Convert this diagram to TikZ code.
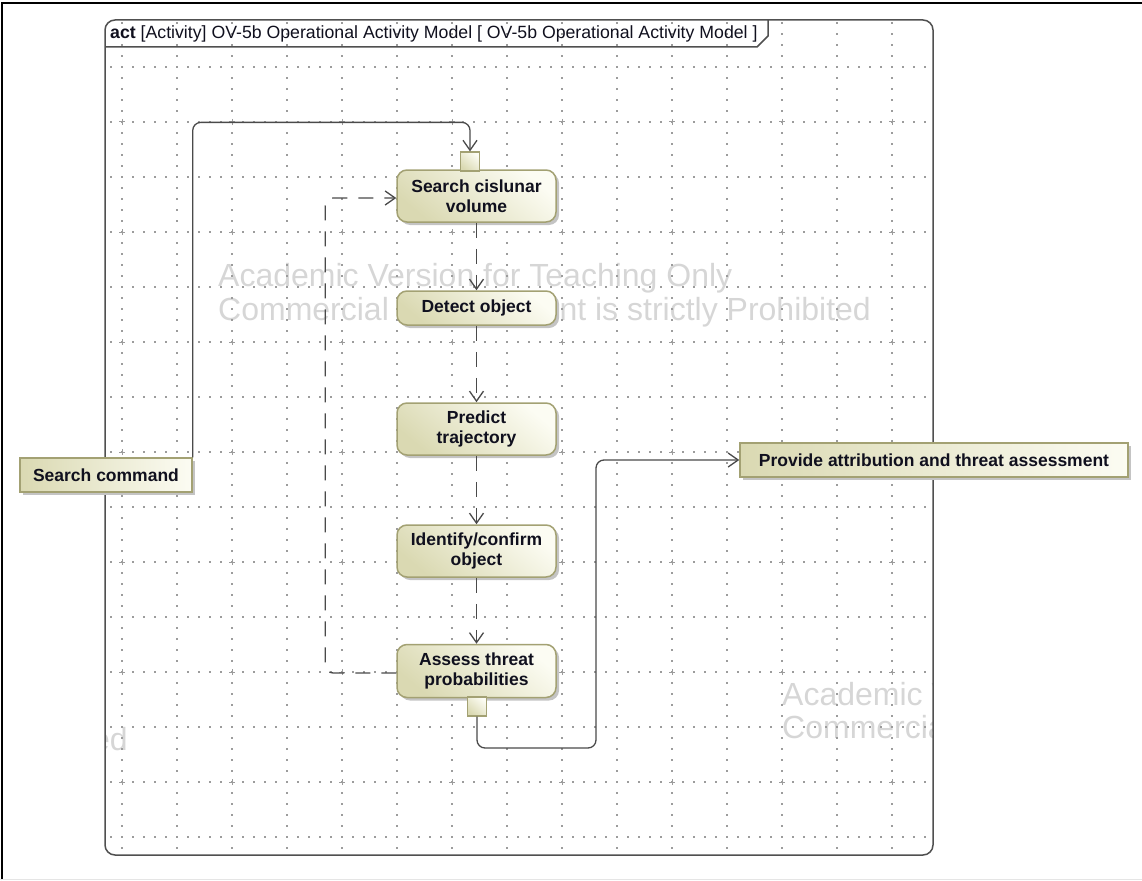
\documentclass[tikz,border=0pt]{standalone}
\usepackage{fontspec}
\setmainfont{Liberation Sans}
\usetikzlibrary{arrows.meta,calc,shadows}

\definecolor{frameC}{HTML}{505050}
\definecolor{lineC}{HTML}{4A4A4A}
\definecolor{boxBorder}{HTML}{A3A173}
\definecolor{boxLight}{HTML}{FCFCF3}
\definecolor{boxDark}{HTML}{DAD9B2}
\definecolor{shadowC}{HTML}{C4C4C4}
\definecolor{wmC}{HTML}{D6D6D6}
\definecolor{dotC}{HTML}{9C9C9C}
\definecolor{txtC}{HTML}{10101E}

\tikzset{
  shadowed/.style={drop shadow={shadow xshift=3pt, shadow yshift=-3pt, fill=shadowC, opacity=1}},
  action/.style={shadowed, rounded corners=10pt, draw=boxBorder, line width=1.5pt,
    top color=boxLight, bottom color=boxDark, shading angle=-40,
    minimum width=159pt, inner sep=0pt, align=center, text=txtC,
    font=\bfseries\fontsize{17.5}{20}\selectfont},
  param/.style={shadowed, draw=boxBorder, line width=1.5pt,
    left color=boxDark, right color=boxLight,
    minimum height=34pt, inner sep=0pt, align=center, text=txtC,
    font=\bfseries\fontsize{17.5}{20}\selectfont},
  pinbox/.style={draw=boxBorder, line width=1.2pt, top color=boxLight, bottom color=boxDark,
    shading angle=-40, minimum width=19pt, minimum height=19pt, inner sep=0pt},
  flow/.style={draw=lineC, line width=1.3pt, -{Straight Barb[length=10pt,width=14pt]}},
  cflow/.style={flow, dash pattern=on 15pt off 11pt},
  wm/.style={text=wmC, inner sep=0pt, font=\fontsize{32}{34}\selectfont},
}

\begin{document}
\begin{tikzpicture}[x=1pt,y=-1pt]
\useasboundingbox (0,0) rectangle (1142,880);

% outer border
\draw[black, line width=2pt] (2,880) -- (2,3) -- (1142,3);
\fill[gray!20] (0,878.5) rectangle (1142,880);

% grid and watermark, clipped to frame
\begin{scope}
  \clip[rounded corners=10pt] (105,20) rectangle (933,855);
  \node[wm, anchor=base west] (w1) at (218,286) {Academic Version for Teaching Only};
  \node[wm, anchor=base west] (w2) at (218,320) {Commercial Development is strictly Prohibited};
  \node[wm, anchor=base west] (w3) at (782,705) {Academic Version for Teaching Only};
  \node[wm, anchor=base west] (w4) at (782,738) {Commercial Development is strictly Prohibited};
  \node[wm, anchor=base east] (w5) at (128,750) {Commercial Development is strictly Prohibited};
  \foreach \r in {0,...,14}{
    \foreach \c in {0,...,74}{
      \fill[dotC] ({110.3+11*\c},{66.3+55*\r}) rectangle ++(1.4,1.4);
    }
  }
  \foreach \c in {0,...,14}{
    \foreach \r in {0,...,75}{
      \fill[dotC] ({121.3+55*\c},{22.3+11*\r}) rectangle ++(1.4,1.4);
    }
  }
  \foreach \i in {0,...,7}{
    \foreach \j in {0,...,6}{
      \draw[dotC, line width=1pt] ({122+110*\i-3},{122+110*\j}) -- ++(6,0)
                                  ({122+110*\i},{122+110*\j-3}) -- ++(0,6);
    }
  }
\end{scope}

% frame
\draw[frameC, line width=1.5pt, rounded corners=10pt] (105,20) rectangle (933,855);
\draw[frameC, line width=1.5pt] (105,47) -- (757,47) -- (768,36) -- (768,20);
\node[anchor=west, inner sep=0pt, text=txtC, font=\fontsize{17.7}{20}\selectfont] (hdr) at (110,34)
  {\textbf{act} [Activity] OV-5b Operational Activity Model [ OV-5b Operational Activity Model ]};

% nodes
\node[action, minimum height=52pt] (s1) at (476.5,196) {Search cislunar\\volume};
\node[action, minimum height=34pt] (s2) at (476.5,308) {Detect object};
\node[action, minimum height=52pt] (s3) at (476.5,429) {Predict\\trajectory};
\node[action, minimum height=52pt] (s4) at (476.5,551) {Identify/confirm\\object};
\node[action, minimum height=53pt] (s5) at (476.5,671) {Assess threat\\probabilities};
\node[pinbox] (p1) at (470,161.5) {};
\node[pinbox] (p2) at (477,706.5) {};
\node[param, minimum width=172pt] (sc) at (106,475) {Search command};
\node[param, minimum width=388pt] (pv) at (934,460) {Provide attribution and threat assessment};

% connectors
\draw[flow, rounded corners=8pt] (sc.north east) |- ($(p1.north)+(0,-29)$) -- (p1.north);
\coordinate (c1) at (596,748);
\draw[flow, rounded corners=8pt] (p2.south) |- (c1) |- (pv.west);
\draw[cflow] (s1.south) -- (s2.north);
\draw[cflow] (s2.south) -- (s3.north);
\draw[cflow] (s3.south) -- (s4.north);
\draw[cflow] (s4.south) -- (s5.north);
\draw[cflow, rounded corners=8pt] ($(s5.west)+(0,2)$) -- ++(-71,0) |- ($(s1.west)+(0,2)$);
\end{tikzpicture}
\end{document}
